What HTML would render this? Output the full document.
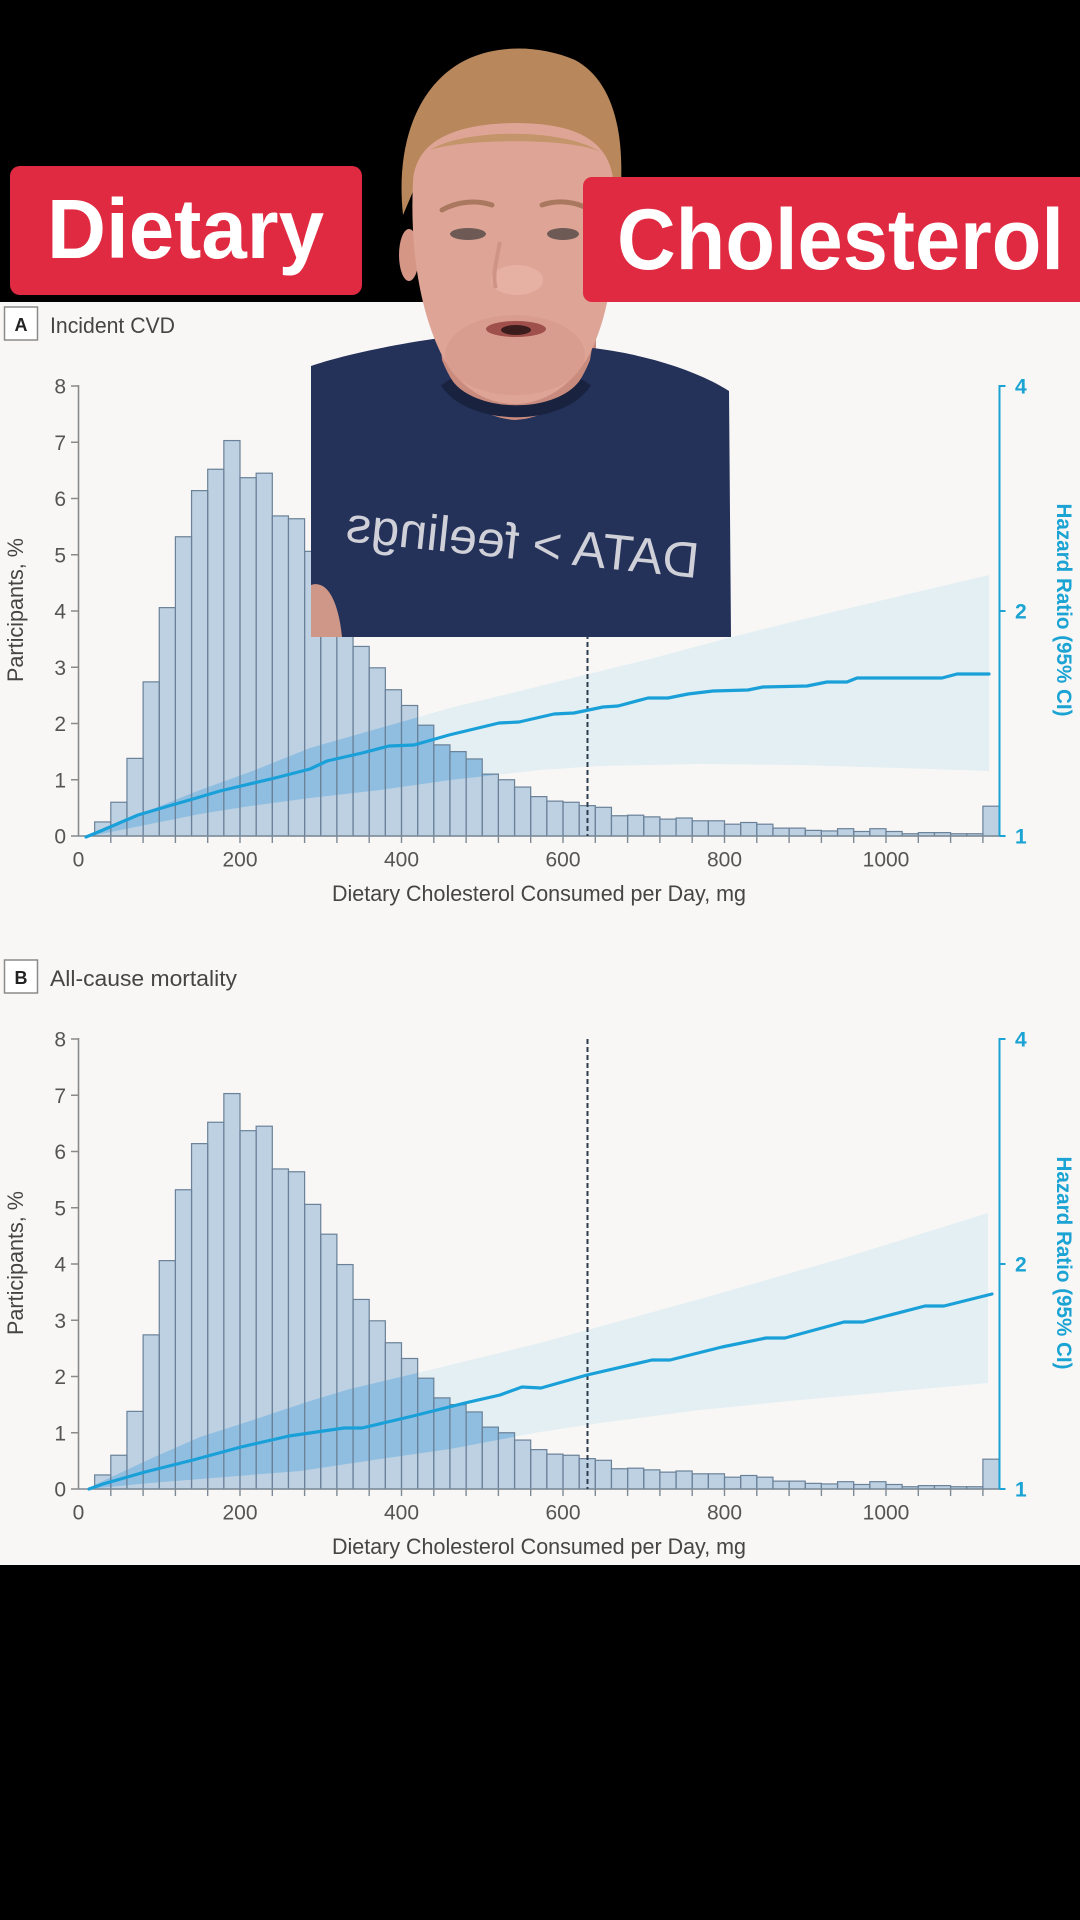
<!DOCTYPE html>
<html>
<head>
<meta charset="utf-8">
<style>
html,body{margin:0;padding:0;background:#000;}
svg{display:block;}
text{font-family:"Liberation Sans",sans-serif;}
</style>
</head>
<body>
<svg width="1080" height="1920" viewBox="0 0 1080 1920" xmlns="http://www.w3.org/2000/svg">
<defs>
<path id="hp" d="M94.65,0 V-14.06 H110.8 V-33.75 H126.95 V-77.63 H143.1 V-154.13 H159.25 V-228.38 H175.4 V-299.25 H191.55 V-345.38 H207.7 V-366.75 H223.85 V-395.44 H240 V-358.31 H256.15 V-362.81 H272.3 V-320.06 H288.45 V-317.25 H304.6 V-284.63 H320.75 V-254.81 H336.9 V-224.44 H353.05 V-189.56 H369.2 V-168.19 H385.35 V-146.25 H401.5 V-130.5 H417.65 V-110.81 H433.8 V-91.13 H449.95 V-84.38 H466.1 V-77.06 H482.25 V-61.88 H498.4 V-56.25 H514.55 V-48.94 H530.7 V-39.38 H546.85 V-34.88 H563 V-33.75 H579.15 V-30.38 H595.3 V-28.69 H611.45 V-20.25 H627.6 V-20.81 H643.75 V-19.13 H659.9 V-16.88 H676.05 V-18 H692.2 V-15.19 H708.35 V-15.19 H724.5 V-11.81 H740.65 V-13.5 H756.8 V-11.81 H772.95 V-7.88 H789.1 V-7.88 H805.25 V-5.63 H821.4 V-5.06 H837.55 V-7.31 H853.7 V-4.5 H869.85 V-7.31 H886 V-4.5 H902.15 V-2.25 H918.3 V-3.38 H934.45 V-3.38 H950.6 V-2.25 H966.75 V-2.25 H982.9 V-29.81 H999.05 V0 Z"/>
<clipPath id="hc"><use href="#hp"/></clipPath>
<g id="bars" fill="none" stroke="#6a8198" stroke-width="1.2">
<rect x="94.65" y="-14.06" width="16.15" height="14.06"/>
<rect x="110.8" y="-33.75" width="16.15" height="33.75"/>
<rect x="126.95" y="-77.63" width="16.15" height="77.63"/>
<rect x="143.1" y="-154.13" width="16.15" height="154.13"/>
<rect x="159.25" y="-228.38" width="16.15" height="228.38"/>
<rect x="175.4" y="-299.25" width="16.15" height="299.25"/>
<rect x="191.55" y="-345.38" width="16.15" height="345.38"/>
<rect x="207.7" y="-366.75" width="16.15" height="366.75"/>
<rect x="223.85" y="-395.44" width="16.15" height="395.44"/>
<rect x="240" y="-358.31" width="16.15" height="358.31"/>
<rect x="256.15" y="-362.81" width="16.15" height="362.81"/>
<rect x="272.3" y="-320.06" width="16.15" height="320.06"/>
<rect x="288.45" y="-317.25" width="16.15" height="317.25"/>
<rect x="304.6" y="-284.63" width="16.15" height="284.63"/>
<rect x="320.75" y="-254.81" width="16.15" height="254.81"/>
<rect x="336.9" y="-224.44" width="16.15" height="224.44"/>
<rect x="353.05" y="-189.56" width="16.15" height="189.56"/>
<rect x="369.2" y="-168.19" width="16.15" height="168.19"/>
<rect x="385.35" y="-146.25" width="16.15" height="146.25"/>
<rect x="401.5" y="-130.5" width="16.15" height="130.5"/>
<rect x="417.65" y="-110.81" width="16.15" height="110.81"/>
<rect x="433.8" y="-91.13" width="16.15" height="91.13"/>
<rect x="449.95" y="-84.38" width="16.15" height="84.38"/>
<rect x="466.1" y="-77.06" width="16.15" height="77.06"/>
<rect x="482.25" y="-61.88" width="16.15" height="61.88"/>
<rect x="498.4" y="-56.25" width="16.15" height="56.25"/>
<rect x="514.55" y="-48.94" width="16.15" height="48.94"/>
<rect x="530.7" y="-39.38" width="16.15" height="39.38"/>
<rect x="546.85" y="-34.88" width="16.15" height="34.88"/>
<rect x="563" y="-33.75" width="16.15" height="33.75"/>
<rect x="579.15" y="-30.38" width="16.15" height="30.38"/>
<rect x="595.3" y="-28.69" width="16.15" height="28.69"/>
<rect x="611.45" y="-20.25" width="16.15" height="20.25"/>
<rect x="627.6" y="-20.81" width="16.15" height="20.81"/>
<rect x="643.75" y="-19.13" width="16.15" height="19.13"/>
<rect x="659.9" y="-16.88" width="16.15" height="16.88"/>
<rect x="676.05" y="-18" width="16.15" height="18"/>
<rect x="692.2" y="-15.19" width="16.15" height="15.19"/>
<rect x="708.35" y="-15.19" width="16.15" height="15.19"/>
<rect x="724.5" y="-11.81" width="16.15" height="11.81"/>
<rect x="740.65" y="-13.5" width="16.15" height="13.5"/>
<rect x="756.8" y="-11.81" width="16.15" height="11.81"/>
<rect x="772.95" y="-7.88" width="16.15" height="7.88"/>
<rect x="789.1" y="-7.88" width="16.15" height="7.88"/>
<rect x="805.25" y="-5.63" width="16.15" height="5.63"/>
<rect x="821.4" y="-5.06" width="16.15" height="5.06"/>
<rect x="837.55" y="-7.31" width="16.15" height="7.31"/>
<rect x="853.7" y="-4.5" width="16.15" height="4.5"/>
<rect x="869.85" y="-7.31" width="16.15" height="7.31"/>
<rect x="886" y="-4.5" width="16.15" height="4.5"/>
<rect x="902.15" y="-2.25" width="16.15" height="2.25"/>
<rect x="918.3" y="-3.38" width="16.15" height="3.38"/>
<rect x="934.45" y="-3.38" width="16.15" height="3.38"/>
<rect x="950.6" y="-2.25" width="16.15" height="2.25"/>
<rect x="966.75" y="-2.25" width="16.15" height="2.25"/>
<rect x="982.9" y="-29.81" width="16.15" height="29.81"/>
</g>
<g id="axlines">
<line x1="78.5" y1="-451" x2="78.5" y2="0" stroke="#8a8a8a" stroke-width="1.6"/>
<path d="M71,0H78.5M71,-56.25H78.5M71,-112.5H78.5M71,-168.75H78.5M71,-225H78.5M71,-281.25H78.5M71,-337.5H78.5M71,-393.75H78.5M71,-450H78.5" stroke="#8a8a8a" stroke-width="1.6" fill="none"/>
<line x1="78.5" y1="0" x2="999.5" y2="0" stroke="#7d8a96" stroke-width="1.6"/>
<path d="M110.8,0v7M143.1,0v7M175.4,0v7M207.7,0v7M240,0v7M272.3,0v7M304.6,0v7M336.9,0v7M369.2,0v7M401.5,0v7M433.8,0v7M466.1,0v7M498.4,0v7M530.7,0v7M563,0v7M595.3,0v7M627.6,0v7M659.9,0v7M692.2,0v7M724.5,0v7M756.8,0v7M789.1,0v7M821.4,0v7M853.7,0v7M886,0v7M918.3,0v7M950.6,0v7M982.9,0v7" stroke="#7d8a96" stroke-width="1.4" fill="none"/>
<line x1="999.5" y1="-451" x2="999.5" y2="0" stroke="#1aa3d3" stroke-width="2"/>
<path d="M999.5,-450h6M999.5,-225h6M999.5,0h6" stroke="#1aa3d3" stroke-width="2" fill="none"/>
<line x1="587.5" y1="-450" x2="587.5" y2="0" stroke="#2d3d4d" stroke-width="2" stroke-dasharray="5 3"/>
</g>
</defs>

<!-- backgrounds -->
<rect x="0" y="0" width="1080" height="1920" fill="#000"/>
<rect x="0" y="302" width="1080" height="1263" fill="#f8f7f6"/>

<!-- PANEL A -->
<g transform="translate(0,836)">
  <polygon points="86,1 150,-26 200,-46 250,-64 310,-88 380,-108 450,-128 540,-150 650,-177 732,-199 800,-216 900,-240 989,-261 989,-65 900,-68 800,-71 700,-72 600,-70 540,-66 450,-56 380,-46 310,-38 250,-30 200,-22 150,-12 86,1" fill="#e3eff2"/>
  <use href="#hp" fill="#bdd1e3"/>
  <polygon clip-path="url(#hc)" points="86,1 150,-26 200,-46 250,-64 310,-88 380,-108 450,-128 540,-150 650,-177 732,-199 800,-216 900,-240 989,-261 989,-65 900,-68 800,-71 700,-72 600,-70 540,-66 450,-56 380,-46 310,-38 250,-30 200,-22 150,-12 86,1" fill="#2f96dc" fill-opacity="0.32"/>
  <use href="#bars"/>
  <use href="#axlines"/>
  <polyline points="86,1 103,-6 138,-21 172,-31 193,-37 220,-45 241,-50 275,-58 310,-67 327,-75 362,-83 389,-90 414,-91 449,-101 499,-113 519,-114 554,-122 574,-123 603,-129 618,-130 648,-138 668,-138 688,-142 713,-145 748,-146 763,-149 807,-150 827,-154 847,-154 857,-158 942,-158 957,-162 989,-162" fill="none" stroke="#1aa0d8" stroke-width="3.2" stroke-linejoin="round" stroke-linecap="round"/>
  <g font-size="21" fill="#555" text-anchor="end">
    <text x="66" y="7.5">0</text><text x="66" y="-48.75">1</text><text x="66" y="-105">2</text><text x="66" y="-161.25">3</text><text x="66" y="-217.5">4</text><text x="66" y="-273.75">5</text><text x="66" y="-330">6</text><text x="66" y="-386.25">7</text><text x="66" y="-442.5">8</text>
  </g>
  <g font-size="21" fill="#555" text-anchor="middle">
    <text x="78.5" y="30.5">0</text><text x="240" y="30.5">200</text><text x="401.5" y="30.5">400</text><text x="563" y="30.5">600</text><text x="724.5" y="30.5">800</text><text x="886" y="30.5">1000</text>
  </g>
  <g font-size="21" fill="#1aa3d3" font-weight="bold">
    <text x="1015" y="-442.5">4</text><text x="1015" y="-217.5">2</text><text x="1015" y="7.5">1</text>
  </g>
  <text x="332" y="65" font-size="22" fill="#454545" textLength="414" lengthAdjust="spacingAndGlyphs">Dietary Cholesterol Consumed per Day, mg</text>
  <text transform="translate(23,-226) rotate(-90)" text-anchor="middle" font-size="22" fill="#454545" textLength="144" lengthAdjust="spacingAndGlyphs">Participants, %</text>
  <text transform="translate(1057,-226) rotate(90)" text-anchor="middle" font-size="21" font-weight="bold" fill="#1aa3d3" textLength="213" lengthAdjust="spacingAndGlyphs">Hazard Ratio (95% CI)</text>
  <rect x="4.5" y="-529" width="33" height="33" fill="#fff" stroke="#8a8a8a" stroke-width="1.5"/>
  <text x="21" y="-505" text-anchor="middle" font-size="18" font-weight="bold" fill="#222">A</text>
  <text x="50" y="-503" font-size="22" fill="#454545" textLength="125" lengthAdjust="spacingAndGlyphs">Incident CVD</text>
</g>

<!-- PANEL B -->
<g transform="translate(0,1489)">
  <polygon points="88,-1 150,-30 200,-52 250,-68 310,-88 350,-100 413,-115 540,-146 700,-190 850,-233 988,-276 988,-106 900,-98 800,-89 700,-79 600,-66 540,-57 450,-40 380,-30 300,-18 200,-10 150,-6 88,0" fill="#e3eff2"/>
  <use href="#hp" fill="#bdd1e3"/>
  <polygon clip-path="url(#hc)" points="88,-1 150,-30 200,-52 250,-68 310,-88 350,-100 413,-115 540,-146 700,-190 850,-233 988,-276 988,-106 900,-98 800,-89 700,-79 600,-66 540,-57 450,-40 380,-30 300,-18 200,-10 150,-6 88,0" fill="#2f96dc" fill-opacity="0.32"/>
  <use href="#bars"/>
  <use href="#axlines"/>
  <polyline points="89,0 103,-5 145,-17 193,-29 241,-42 289,-53 344,-61 362,-61 413,-73 465,-86 500,-94 522,-102 541,-101 587,-114 652,-129 670,-129 722,-142 766,-151 785,-151 844,-167 863,-167 925,-183 944,-183 992,-195" fill="none" stroke="#1aa0d8" stroke-width="3.2" stroke-linejoin="round" stroke-linecap="round"/>
  <g font-size="21" fill="#555" text-anchor="end">
    <text x="66" y="7.5">0</text><text x="66" y="-48.75">1</text><text x="66" y="-105">2</text><text x="66" y="-161.25">3</text><text x="66" y="-217.5">4</text><text x="66" y="-273.75">5</text><text x="66" y="-330">6</text><text x="66" y="-386.25">7</text><text x="66" y="-442.5">8</text>
  </g>
  <g font-size="21" fill="#555" text-anchor="middle">
    <text x="78.5" y="30.5">0</text><text x="240" y="30.5">200</text><text x="401.5" y="30.5">400</text><text x="563" y="30.5">600</text><text x="724.5" y="30.5">800</text><text x="886" y="30.5">1000</text>
  </g>
  <g font-size="21" fill="#1aa3d3" font-weight="bold">
    <text x="1015" y="-442.5">4</text><text x="1015" y="-217.5">2</text><text x="1015" y="7.5">1</text>
  </g>
  <text x="332" y="65" font-size="22" fill="#454545" textLength="414" lengthAdjust="spacingAndGlyphs">Dietary Cholesterol Consumed per Day, mg</text>
  <text transform="translate(23,-226) rotate(-90)" text-anchor="middle" font-size="22" fill="#454545" textLength="144" lengthAdjust="spacingAndGlyphs">Participants, %</text>
  <text transform="translate(1057,-226) rotate(90)" text-anchor="middle" font-size="21" font-weight="bold" fill="#1aa3d3" textLength="213" lengthAdjust="spacingAndGlyphs">Hazard Ratio (95% CI)</text>
  <rect x="4.5" y="-529" width="33" height="33" fill="#fff" stroke="#8a8a8a" stroke-width="1.5"/>
  <text x="21" y="-505" text-anchor="middle" font-size="18" font-weight="bold" fill="#222">B</text>
  <text x="50" y="-503" font-size="22" fill="#454545" textLength="187" lengthAdjust="spacingAndGlyphs">All-cause mortality</text>
</g>

<!-- PERSON OVERLAY -->
<g>
  <!-- neck -->
  <path d="M436,320 L596,320 L596,428 L436,428 Z" fill="#c98b7d"/>
  <!-- shirt -->
  <path d="M311,366 C340,356 390,345 440,338 L442,360 C456,396 482,418 515,420 C550,418 576,396 590,360 L592,348 C630,352 690,366 729,391 L731,637 L311,637 Z" fill="#243158"/>
  <path d="M446,382 C470,420 560,422 586,382" fill="none" stroke="#19223f" stroke-width="12"/>
  <path d="M311,585 C326,580 338,598 342,637 L311,637 Z" fill="#cf9787"/>
  <text transform="translate(697,578) rotate(6) scale(-1,1)" font-size="50" fill="#cfd0d8" textLength="354" lengthAdjust="spacingAndGlyphs">DATA &gt; feelings</text>
  <!-- hair -->
  <path d="M403,215 C395,140 420,80 470,58 C500,45 540,45 575,60 C612,80 626,130 620,200 L612,175 C600,145 570,128 515,125 C465,125 435,140 420,175 Z" fill="#b8875b"/>
  <!-- ears -->
  <ellipse cx="409" cy="255" rx="10" ry="26" fill="#d69685"/>
  <ellipse cx="614" cy="240" rx="9" ry="26" fill="#d69685"/>
  <!-- face -->
  <path d="M413,182 C415,146 445,124 515,123 C585,123 612,146 614,187 C618,242 612,302 595,342 C580,380 548,404 515,404 C480,404 452,380 438,347 C418,302 410,242 413,182 Z" fill="#dea596"/>
  <path d="M430,150 C465,128 565,128 600,152 C575,138 465,138 430,150 Z" fill="#c4946a"/>
  <!-- lower face reddish -->
  <ellipse cx="515" cy="355" rx="70" ry="40" fill="#d5978a" opacity="0.6"/>
  <!-- brows -->
  <path d="M442,210 C458,201 477,200 492,205" stroke="#a9785e" stroke-width="5" fill="none" stroke-linecap="round"/>
  <path d="M542,205 C557,200 575,201 588,209" stroke="#a9785e" stroke-width="5" fill="none" stroke-linecap="round"/>
  <!-- eyes -->
  <ellipse cx="468" cy="234" rx="18" ry="6" fill="#6e5a55"/>
  <ellipse cx="563" cy="234" rx="16" ry="6" fill="#6e5a55"/>
  <!-- nose -->
  <ellipse cx="517" cy="280" rx="26" ry="15" fill="#e6b0a2"/>
  <path d="M500,242 C496,262 492,278 496,288" stroke="#cf9486" stroke-width="4" fill="none"/>
  <!-- mouth -->
  <ellipse cx="516" cy="329" rx="30" ry="8" fill="#a0504c"/>
  <ellipse cx="516" cy="330" rx="15" ry="5" fill="#3a1c1c"/>
</g>

<!-- BANNERS -->
<rect x="10" y="166" width="352" height="129" rx="10" fill="#e02a41"/>
<text x="47" y="258" font-size="84" font-weight="bold" fill="#fff" textLength="277" lengthAdjust="spacingAndGlyphs">Dietary</text>
<rect x="583" y="177" width="510" height="125" rx="9" fill="#e02a41"/>
<text x="617" y="269" font-size="86" font-weight="bold" fill="#fff" textLength="447" lengthAdjust="spacingAndGlyphs">Cholesterol</text>
</svg>
</body>
</html>
